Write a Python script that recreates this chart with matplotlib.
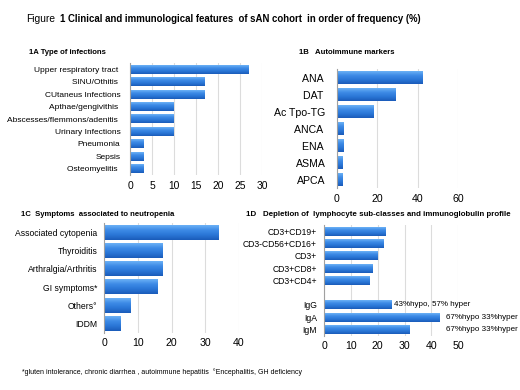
import numpy as np
import matplotlib
matplotlib.use('Agg')
import matplotlib.pyplot as plt
from matplotlib.colors import LinearSegmentedColormap

plt.rcParams['font.family'] = ['Liberation Sans', 'DejaVu Sans']

# 1A
infection_labels = ['Upper respiratory tract ', 'SINU/Othitis ', 'CUtaneus Infections',
                    'Apthae/gengivithis ', 'Abscesses/flemmons/adenitis ', 'Urinary Infections',
                    'Pneumonia', 'Sepsis', 'Osteomyelitis ']
infection_values = [27, 17, 17, 10, 10, 10, 3, 3, 3]

# 1B
marker_labels = ['ANA ', 'DAT ', 'Ac Tpo-TG', 'ANCA ', 'ENA ', 'ASMA', 'APCA']
marker_values = [42, 29, 18, 3, 3, 2.5, 2.5]

# 1C
symptom_labels = ['Associated cytopenia', 'Thyroiditis', 'Arthralgia/Arthritis',
                  'GI symptoms*', 'Others\u00b0', 'IDDM']
symptom_values = [34, 17.5, 17.5, 16, 8, 5]

# 1D (empty slot between lymphocytes and immunoglobulins)
lymph_labels = ['CD3+CD19+', 'CD3-CD56+CD16+', 'CD3+', 'CD3+CD8+', 'CD3+CD4+', '',
                'IgG', 'IgA', 'IgM']
lymph_values = [23, 22, 20, 18, 17, 0, 25, 43, 32]
lymph_notes = ['', '', '', '', '', '', '43%hypo, 57% hyper', '67%hypo 33%hyper',
               '67%hypo 33%hyper']
note_x = [0, 0, 0, 0, 0, 0, 26, 45.5, 45.5]  # where the note text starts

W, H = 520, 390
fig = plt.figure(figsize=(5.2, 3.9), dpi=100)

bar_cmap = LinearSegmentedColormap.from_list(
    'bar', ['#1b5cba', '#2a76d6', '#3d8ae6', '#6ab0f5'])
grad = np.linspace(0, 1, 32).reshape(-1, 1)


def px_axes(left, top, right, bottom):
    return fig.add_axes([left / W, 1 - bottom / H, (right - left) / W, (bottom - top) / H])


def gradient_barh(ax, labels, values, xmax, xstep, bar_h, label_size, tick_size, label_pad):
    n = len(labels)
    ypos = np.arange(n)[::-1]
    for y, v in zip(ypos, values):
        if v <= 0:
            continue
        ax.imshow(grad, extent=[0, v, y - bar_h / 2, y + bar_h / 2], cmap=bar_cmap,
                  aspect='auto', origin='lower', zorder=2)
    ax.set_xlim(0, xmax)
    ax.set_ylim(-0.5, n - 0.5)
    ax.set_yticks(ypos)
    ax.set_yticklabels(labels, fontsize=label_size)
    ticks = np.arange(0, xmax + 0.1, xstep)
    ax.set_xticks(ticks)
    ax.set_xticklabels([f'{t:g}' for t in ticks], fontsize=tick_size)
    ax.tick_params(length=0)
    ax.tick_params(axis='y', pad=label_pad)
    ax.tick_params(axis='x', pad=4)
    ax.grid(axis='x', color='#dcdcdc', linewidth=0.8, zorder=0)
    ax.set_axisbelow(True)
    for s in ['top', 'right', 'bottom']:
        ax.spines[s].set_visible(False)
    ax.spines['left'].set_color('#a0a0a0')
    ax.spines['left'].set_linewidth(0.8)
    return ypos


fig.text(26 / W, 1 - 19 / H, 'Figure', fontsize=7.4, va='center', ha='left')
fig.text(60 / W, 1 - 19 / H,
         '1 Clinical and immunological features  of sAN cohort  in order of frequency (%)',
         fontsize=6.9, fontweight='bold', va='center', ha='left')

# 1A
axA = px_axes(130, 63, 262, 175)
gradient_barh(axA, infection_labels, infection_values, 30, 5, 0.72, 6.0, 7.4, 7)
fig.text(29 / W, 1 - 52 / H, '1A Type of infections', fontsize=5.6, fontweight='bold', va='center')

# 1B
axB = px_axes(336.7, 69.4, 458.3, 188.3)
gradient_barh(axB, marker_labels, marker_values, 60, 20, 0.72, 7.6, 7.6, 8)
fig.text(299 / W, 1 - 52 / H, '1B   Autoimmune markers', fontsize=5.6, fontweight='bold', va='center')

# 1C
axC = px_axes(104.3, 223.2, 239, 332.8)
gradient_barh(axC, symptom_labels, symptom_values, 40, 10, 0.79, 6.2, 7.6, 5)
fig.text(21 / W, 1 - 214 / H, '1C  Symptoms  associated to neutropenia', fontsize=5.6,
         fontweight='bold', va='center')

# 1D
axD = px_axes(324, 225.1, 458.3, 335.6)
ypos = gradient_barh(axD, lymph_labels, lymph_values, 50, 10, 0.73, 6.2, 7.6, 5)
for y, nx, note in zip(ypos, note_x, lymph_notes):
    if note:
        axD.text(nx, y, note, fontsize=5.8, va='center', ha='left', clip_on=False)
fig.text(246 / W, 1 - 214 / H,
         '1D   Depletion of  lymphocyte sub-classes and immunoglobulin profile',
         fontsize=5.7, fontweight='bold', va='center')

fig.text(22 / W, 1 - 372 / H,
         '*gluten intolerance, chronic diarrhea , autoimmune hepatitis  \u00b0Encephalitis, GH deficiency',
         fontsize=5.0, va='center')

fig.savefig('out.png', dpi=100)
